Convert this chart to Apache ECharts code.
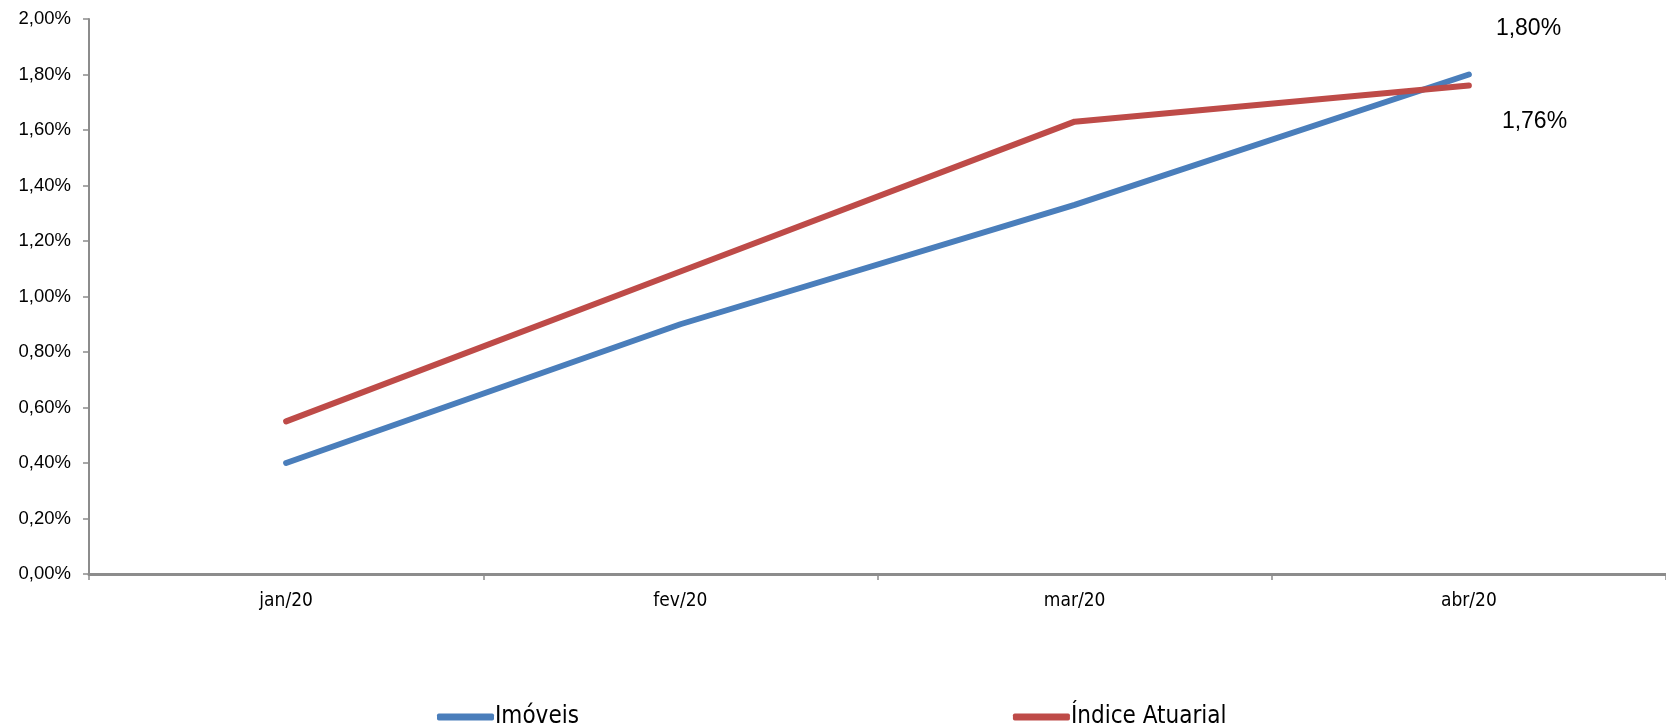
<!DOCTYPE html>
<html><head><meta charset="utf-8">
<script src="https://cdn.jsdelivr.net/npm/echarts@6/dist/echarts.min.js"></script>
<style>html,body{margin:0;padding:0;background:#fff}#c{width:1666px;height:727px}</style>
</head><body><div id="c"></div>
<script>
var categories = ['jan/20', 'fev/20', 'mar/20', 'abr/20'];
var imoveis = [0.40, 0.90, 1.33, 1.80];
var indiceAtuarial = [0.55, 1.09, 1.63, 1.76];
var yTicks = [0, 0.2, 0.4, 0.6, 0.8, 1.0, 1.2, 1.4, 1.6, 1.8, 2.0];

function pct(v){ return v.toFixed(2).replace('.', ',') + '%'; }
var narrow = '"Liberation Sans Narrow", "DejaVu Sans Condensed", "Liberation Sans", sans-serif';
var regular = '"Liberation Sans", Arial, sans-serif';

var chart = echarts.init(document.getElementById('c'));
chart.setOption({
  animation: false,
  backgroundColor: '#ffffff',
  grid: { left: 89, right: 0, top: 19, bottom: 153, containLabel: false },
  legend: {
    top: 700, left: 432, itemGap: 434,
    icon: 'roundRect', itemWidth: 57, itemHeight: 7,
    textStyle: { fontFamily: narrow, fontSize: 24, color: '#000', padding: [0,0,0,-4] },
    data: ['Imóveis', 'Índice Atuarial']
  },
  xAxis: {
    type: 'category', data: categories, boundaryGap: true,
    axisLine: { lineStyle: { color: '#8c8c8c', width: 3 } },
    axisTick: { show: true, length: 6, lineStyle: { color: '#8c8c8c', width: 1.5 } },
    axisLabel: { fontFamily: narrow, fontSize: 19, color: '#000', margin: 18 },
    splitLine: { show: false }
  },
  yAxis: {
    type: 'value', min: yTicks[0], max: yTicks[yTicks.length-1], interval: 0.2,
    axisLine: { show: true, lineStyle: { color: '#8c8c8c', width: 2 } },
    axisTick: { show: true, length: 6, lineStyle: { color: '#8c8c8c', width: 1.5 } },
    axisLabel: { fontFamily: regular, fontSize: 18.5, color: '#000', margin: 18, formatter: pct },
    splitLine: { show: false }
  },
  series: [
    {
      name: 'Imóveis', type: 'line', data: imoveis, showSymbol: false,
      color: '#4a7ebb',
      lineStyle: { width: 6, color: '#4a7ebb', cap: 'round', join: 'round' },
      endLabel: { show: true, formatter: function(p){ return pct(p.value); }, offset: [19, -46],
        fontFamily: regular, fontSize: 23, color: '#000' }
    },
    {
      name: 'Índice Atuarial', type: 'line', data: indiceAtuarial, showSymbol: false,
      color: '#be4b48',
      lineStyle: { width: 6, color: '#be4b48', cap: 'round', join: 'round' },
      endLabel: { show: true, formatter: function(p){ return pct(p.value); }, offset: [25, 36],
        fontFamily: regular, fontSize: 23, color: '#000' }
    }
  ]
});
</script></body></html>
